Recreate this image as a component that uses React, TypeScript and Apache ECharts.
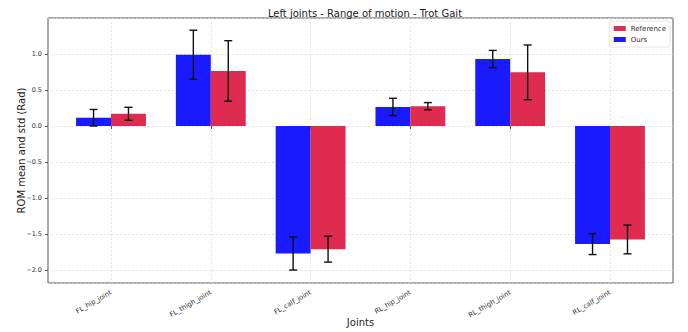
import React, { useEffect, useRef } from "react";
import * as echarts from "echarts";

const categories = ["FL_hip_joint", "FL_thigh_joint", "FL_calf_joint", "RL_hip_joint", "RL_thigh_joint", "RL_calf_joint"];
const oursMean = [0.115, 0.99, -1.77, 0.265, 0.93, -1.64];
const oursStd = [0.115, 0.34, 0.23, 0.12, 0.12, 0.145];
const refMean = [0.17, 0.765, -1.71, 0.275, 0.745, -1.575];
const refStd = [0.09, 0.42, 0.18, 0.05, 0.38, 0.2];

const Y_MIN = -2.18;
const Y_MAX = 1.5;

const OURS_COLOR = "#1a1aff";
const REF_COLOR = "#df2b4f";

function errorSeries(means: number[], stds: number[], sign: number) {
  return {
    type: "custom",
    xAxisIndex: 0,
    yAxisIndex: 0,
    z: 5,
    clip: false,
    silent: true,
    data: means.map((m, i) => [i, m - stds[i], m + stds[i]]),
    renderItem: (params: any, api: any) => {
      const band = api.size([1, 0])[0];
      const off = sign * band * 0.175;
      const lo = api.coord([api.value(0), api.value(1)]);
      const hi = api.coord([api.value(0), api.value(2)]);
      const x = lo[0] + off;
      const cap = 4;
      const style = { stroke: "#111", lineWidth: 1.4 };
      return {
        type: "group",
        children: [
          { type: "line", shape: { x1: x, y1: lo[1], x2: x, y2: hi[1] }, style },
          { type: "line", shape: { x1: x - cap, y1: lo[1], x2: x + cap, y2: lo[1] }, style },
          { type: "line", shape: { x1: x - cap, y1: hi[1], x2: x + cap, y2: hi[1] }, style },
        ],
      };
    },
  };
}

export default function App() {
  const ref = useRef<HTMLDivElement>(null);
  useEffect(() => {
    if (!ref.current) return;
    const chart = echarts.init(ref.current, undefined, { renderer: "svg" });
    const gridTop = 18;
    const gridHeight = 265;
    const fmt = (v: number) => v.toFixed(1).replace("-", "\u2212");
    chart.setOption({
      animation: false,
      backgroundColor: "#fff",
      textStyle: { fontFamily: "DejaVu Sans" },
      title: {
        text: "Left joints - Range of motion - Trot Gait",
        left: 360,
        textAlign: "center",
        top: 3,
        textStyle: { fontSize: 10, fontWeight: "normal", color: "#222", fontFamily: "DejaVu Sans" },
      },
      legend: {
        data: ["Reference", "Ours"],
        orient: "vertical",
        right: 18,
        top: 21,
        icon: "rect",
        itemWidth: 12,
        itemHeight: 5,
        itemGap: 4,
        padding: [4, 4, 4, 4],
        borderColor: "#ddd",
        borderWidth: 0.8,
        borderRadius: 2,
        backgroundColor: "#fff",
        selectedMode: false,
        textStyle: { fontSize: 7, color: "#333", fontFamily: "DejaVu Sans" },
      },
      grid: [
        { left: 111, top: gridTop, width: 499, height: gridHeight, show: false, containLabel: false, outerBoundsMode: "none" },
        { left: 48, top: gridTop, width: 625, height: gridHeight, show: true, borderColor: "#555", borderWidth: 1, backgroundColor: "transparent", containLabel: false, outerBoundsMode: "none" },
      ],
      xAxis: [
        {
          type: "category",
          gridIndex: 0,
          data: categories,
          boundaryGap: false,
          axisLine: { show: false },
          axisTick: { show: true, length: 3, lineStyle: { color: "#555" } },
          splitLine: { show: true, lineStyle: { color: "#ddd", type: [2, 2], width: 0.8 } },
          axisLabel: { rotate: 30, fontSize: 6.8, color: "#333", margin: 9, interval: 0, fontFamily: "DejaVu Sans" },
          name: "Joints",
          nameLocation: "middle",
          nameGap: 34,
          nameMoveOverlap: false,
          nameTextStyle: { fontSize: 10, color: "#222", fontFamily: "DejaVu Sans" },
        },
        { type: "value", gridIndex: 1, min: 0, max: 1, show: false },
      ],
      yAxis: [
        { type: "value", gridIndex: 0, min: Y_MIN, max: Y_MAX, show: false, splitLine: { show: false } },
        {
          type: "value",
          gridIndex: 1,
          min: Y_MIN,
          max: Y_MAX,
          splitNumber: 7,
          axisLine: { show: false },
          axisTick: { show: true, length: 3, lineStyle: { color: "#555" } },
          splitLine: { show: true, lineStyle: { color: "#ddd", type: [2, 2], width: 0.8 } },
          axisLabel: { fontSize: 6.5, color: "#333", formatter: fmt, showMinLabel: false, showMaxLabel: false, margin: 6, fontFamily: "DejaVu Sans" },
          name: "ROM mean and std (Rad)",
          nameLocation: "middle",
          nameGap: 22,
          nameMoveOverlap: false,
          nameRotate: 90,
          nameTextStyle: { fontSize: 10, color: "#222", fontFamily: "DejaVu Sans" },
        },
      ],
      series: [
        {
          name: "Ours",
          type: "bar",
          xAxisIndex: 0,
          yAxisIndex: 0,
          data: oursMean,
          barWidth: "35%",
          barGap: "0%",
          clip: false,
          itemStyle: { color: OURS_COLOR },
        },
        {
          name: "Reference",
          type: "bar",
          xAxisIndex: 0,
          yAxisIndex: 0,
          data: refMean,
          barWidth: "35%",
          barGap: "0%",
          clip: false,
          itemStyle: { color: REF_COLOR },
        },
        errorSeries(oursMean, oursStd, -1),
        errorSeries(refMean, refStd, 1),
      ],
    });
    return () => chart.dispose();
  }, []);
  return <div ref={ref} style={{ width: 688, height: 332, position: "absolute", left: 0, top: 0 }} />;
}
